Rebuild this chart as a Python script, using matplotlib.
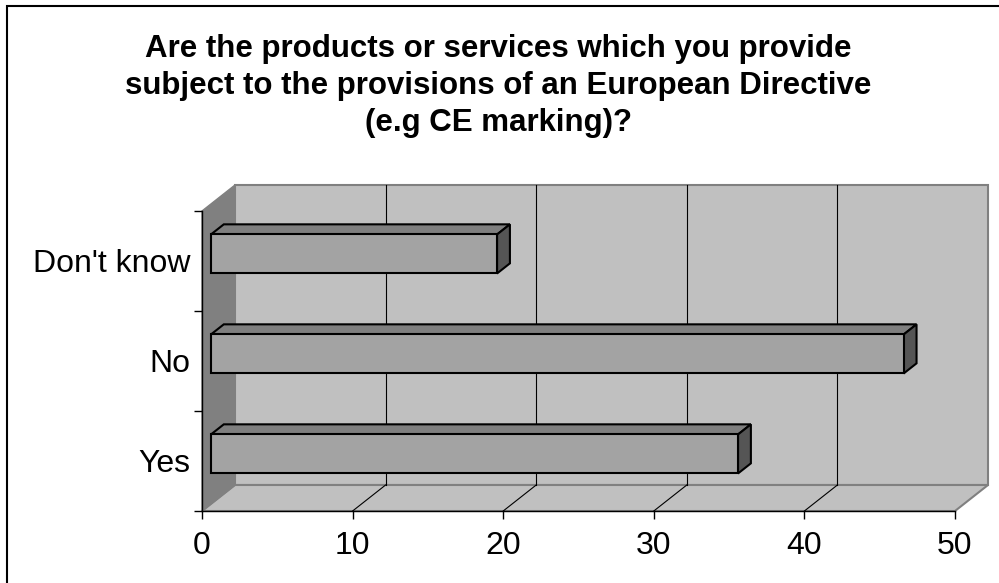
import matplotlib.pyplot as plt
from matplotlib.patches import Polygon, Rectangle

categories = ["Yes", "No", "Don't know"]
values = [35, 46, 19]
x_ticks = [0, 10, 20, 30, 40, 50]
title = ("Are the products or services which you provide\n"
         "subject to the provisions of an European Directive\n"
         "(e.g CE marking)?")

plt.rcParams['font.family'] = ['Liberation Sans', 'DejaVu Sans']

W, H = 999, 583
fig = plt.figure(figsize=(W / 100, H / 100), dpi=100)
ax = fig.add_axes([202 / W, 72 / H, 753 / W, 300 / H])
ax.set_xlim(0, 50)
ax.set_ylim(0, len(categories))
ax.patch.set_visible(False)

# depth of the 3d box in data units
DX = 33 / 753 * 50
DY = 26 / 100
BAR_FRONT, BAR_BACK = 0.27, 0.66


def pt(x, y, d):
    return (x + d * DX, y + d * DY)


def face(corners, fc, ec, lw, z):
    p = Polygon([pt(*c) for c in corners], closed=True, facecolor=fc,
                edgecolor=ec, linewidth=lw, clip_on=False, zorder=z)
    ax.add_patch(p)


xmax = x_ticks[-1]
ymax = len(categories)

# walls and floor
face([(0, 0, 1), (xmax, 0, 1), (xmax, ymax, 1), (0, ymax, 1)], '#c0c0c0', '#808080', 1.5, 1)
face([(0, 0, 0), (xmax, 0, 0), (xmax, 0, 1), (0, 0, 1)], '#c0c0c0', '#808080', 1.5, 1)
face([(0, 0, 0), (0, 0, 1), (0, ymax, 1), (0, ymax, 0)], '#808080', '#808080', 1, 1)

# gridlines on back wall and floor
for t in x_ticks[1:-1]:
    xs, ys = zip(pt(t, 0, 1), pt(t, ymax, 1))
    ax.plot(xs, ys, color='black', lw=0.8, clip_on=False, zorder=1.5)
    xs, ys = zip(pt(t, 0, 0), pt(t, 0, 1))
    ax.plot(xs, ys, color='black', lw=0.8, clip_on=False, zorder=1.5)

# bars
for i in range(len(categories) - 1, -1, -1):
    v = values[i]
    y0, y1 = i + 0.305, i + 0.695
    f, b = BAR_FRONT, BAR_BACK
    face([(0, y1, f), (v, y1, f), (v, y1, b), (0, y1, b)], '#7f7f7f', 'black', 1.5, 3)
    face([(v, y0, f), (v, y0, b), (v, y1, b), (v, y1, f)], '#555555', 'black', 1.5, 3)
    face([(0, y0, f), (v, y0, f), (v, y1, f), (0, y1, f)], '#a3a3a3', 'black', 1.5, 3)

for s in ['top', 'right']:
    ax.spines[s].set_visible(False)
for s in ['left', 'bottom']:
    ax.spines[s].set_linewidth(1)
    ax.spines[s].set_color('black')

ax.set_xticks(x_ticks)
ax.tick_params(axis='x', length=6, width=1, pad=8.5, labelsize=23)
ax.set_yticks([i + 0.5 for i in range(len(categories))])
ax.set_yticklabels(categories)
ax.set_yticks(range(len(categories) + 1), minor=True)
ax.tick_params(axis='y', which='major', length=0, pad=8.6, labelsize=23)
ax.tick_params(axis='y', which='minor', length=6, width=1)

fig.text(0.499, 1 - 86 / H, title, ha='center', va='center', fontsize=22.5,
         fontweight='bold', linespacing=1.3)

# chart border
fig.add_artist(Rectangle((7 / W, -0.1), 1.1, 1.1 - 6 / H, transform=fig.transFigure,
                         fill=False, edgecolor='black', lw=1.5))

fig.savefig('out.png', dpi=100)
